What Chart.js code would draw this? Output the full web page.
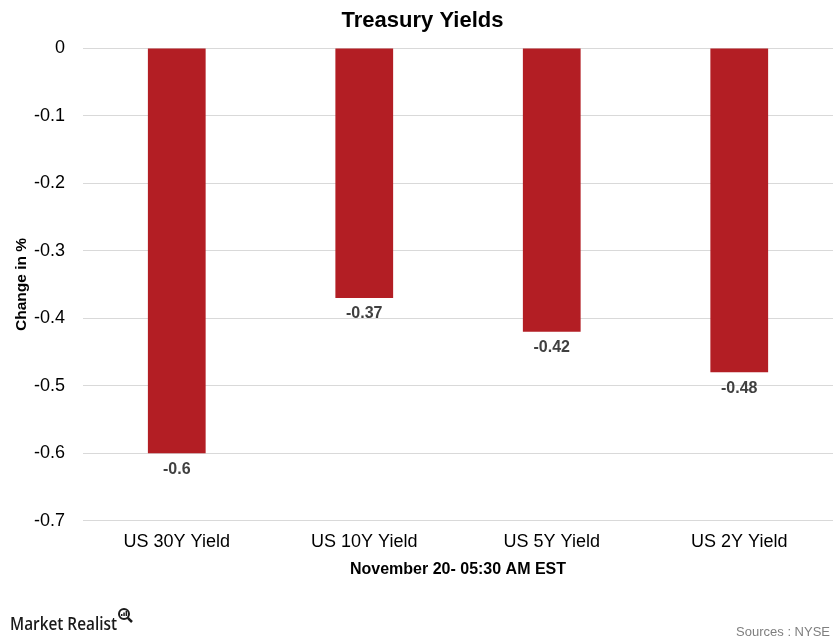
<!DOCTYPE html>
<html>
<head>
<meta charset="utf-8">
<script src="https://cdn.jsdelivr.net/npm/chart.js@4"></script>
<style>
html,body{margin:0;padding:0;background:#fff;}
#wrap{width:840px;height:643px;position:relative;}
</style>
</head>
<body>
<div id="wrap"><canvas id="c" width="840" height="643"></canvas></div>
<script>
const categories = ["US 30Y Yield", "US 10Y Yield", "US 5Y Yield", "US 2Y Yield"];
const changes = [-0.6, -0.37, -0.42, -0.48];
const titleText = "Treasury Yields";
const xTitle = "November 20- 05:30 AM EST";
const yTitle = "Change in %";
const sourceText = "Sources : NYSE";
const brandText = "Market Realist";

const FONT = "'Liberation Sans', Arial, sans-serif";

const labelPlugin = {
  id: 'labels',
  afterDatasetsDraw(chart) {
    const ctx = chart.ctx;
    const meta = chart.getDatasetMeta(0);
    ctx.save();
    ctx.font = "bold 16px " + FONT;
    ctx.fillStyle = "#404040";
    ctx.textAlign = "center";
    ctx.textBaseline = "top";
    meta.data.forEach((bar, i) => {
      ctx.fillText(String(changes[i]), bar.x, bar.y + 8);
    });
    ctx.restore();
  },
  afterDraw(chart) {
    const ctx = chart.ctx;
    ctx.save();
    ctx.font = "13px " + FONT;
    ctx.fillStyle = "#7F7F7F";
    ctx.textAlign = "right";
    ctx.textBaseline = "alphabetic";
    ctx.fillText(sourceText, 830, 636);
    // brand
    ctx.font = "600 18px 'Open Sans', 'DejaVu Sans', sans-serif";
    const raw = ctx.measureText(brandText).width;
    const sx = 107 / raw;
    ctx.save();
    ctx.translate(10, 630);
    ctx.scale(sx, 1);
    ctx.fillStyle = "#1a1a1a";
    ctx.textAlign = "left";
    ctx.fillText(brandText, 0, 0);
    ctx.restore();
    const cx = 124, cy = 614;
    ctx.strokeStyle = "#1a1a1a";
    ctx.lineWidth = 2;
    ctx.beginPath();
    ctx.arc(cx, cy, 5, 0, Math.PI * 2);
    ctx.stroke();
    ctx.lineWidth = 2.5;
    ctx.beginPath();
    ctx.moveTo(cx + 3.8, cy + 3.8);
    ctx.lineTo(cx + 8, cy + 8);
    ctx.stroke();
    ctx.fillStyle = "#1a1a1a";
    ctx.fillRect(cx - 3, cy, 1.5, 2);
    ctx.fillRect(cx - 0.7, cy - 1.5, 1.5, 3.5);
    ctx.fillRect(cx + 1.6, cy - 3, 1.5, 5);
    ctx.restore();
  }
};

new Chart(document.getElementById('c'), {
  type: 'bar',
  data: {
    labels: categories,
    datasets: [{
      data: changes,
      backgroundColor: '#B31E24',
      borderWidth: 0,
      categoryPercentage: 1.0,
      barPercentage: 0.308
    }]
  },
  options: {
    responsive: false,
    animation: false,
    devicePixelRatio: 1,
    layout: { padding: { top: 5, right: 7, bottom: 64, left: 12 } },
    plugins: {
      legend: { display: false },
      tooltip: { enabled: false },
      title: {
        display: true,
        text: titleText,
        color: '#000',
        font: { family: FONT, size: 22, weight: 'bold' },
        padding: { top: 2.3, bottom: 14.3 }
      }
    },
    scales: {
      x: {
        grid: { display: false, drawTicks: false },
        border: { display: false },
        ticks: { color: '#000', font: { family: FONT, size: 18 }, padding: 10.5 },
        title: {
          display: true, text: xTitle, color: '#000',
          font: { family: FONT, size: 16, weight: 'bold' },
          padding: { top: -3.7, bottom: 0 }
        }
      },
      y: {
        min: -0.7, max: 0,
        grid: { color: '#D9D9D9', drawTicks: false, lineWidth: 1 },
        border: { display: false },
        ticks: {
          stepSize: 0.1, color: '#000',
          font: { family: FONT, size: 18 }, padding: 18,
          callback: v => String(Math.round(v * 10) / 10)
        },
        title: {
          display: true, text: yTitle, color: '#000',
          font: { family: FONT, size: 15.5, weight: 'bold' },
          padding: { top: 0.7, bottom: -15.3 }
        }
      }
    }
  },
  plugins: [labelPlugin]
});
</script>
</body>
</html>
